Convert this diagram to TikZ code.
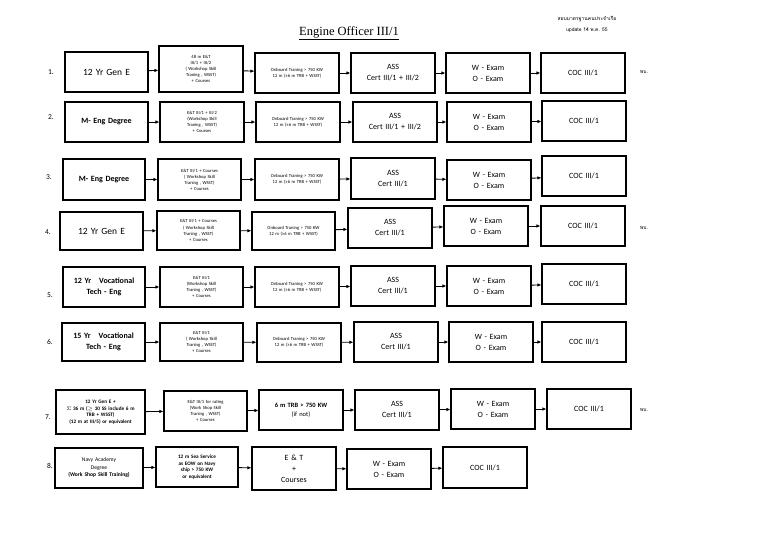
\documentclass[tikz,border=0pt]{standalone}
\usepackage{fontspec}
\setmainfont{Carlito}
\newfontfamily\thaifont[Script=Thai]{Loma}
\newfontfamily\titlefont{Liberation Serif}
\usetikzlibrary{arrows.meta}
\tikzset{box/.style={draw,line width=1.1pt,align=center,inner sep=1pt},
 big/.style={font=\fontsize{9.5}{11}\selectfont},
 med/.style={font=\fontsize{8}{10.5}\selectfont\bfseries},
 cert/.style={font=\fontsize{8}{11}\selectfont},
 tiny/.style={font=\fontsize{4.6}{6}\selectfont},
 sm/.style={font=\fontsize{5.2}{6.6}\selectfont\bfseries},
 arr/.style={-{Latex[length=4pt,width=3.5pt]},line width=0.9pt},
 lab/.style={font=\fontsize{7.5}{9}\selectfont}}
\newcommand\bx[7][]{\node[box,#1,minimum width={#4pt-#3pt},minimum height={#6pt-#5pt},text width={#4pt-#3pt-4pt}] (#2) at ({(#3+#4)/2},{(#5+#6)/2}) {#7};}
\newcommand\ob{Onboard Traning > 750 KW\\12 m (≥6 m TRB + WSST)}
\begin{document}
\begin{tikzpicture}[x=1pt,y=-1pt]
\useasboundingbox (0,0) rectangle (768,543);
\node[font=\titlefont\fontsize{12.5}{14}\selectfont] (title) at (349,33) {\underline{Engine Officer III/1}};
\node[font=\thaifont\fontsize{5}{6}\selectfont] (t1) at (587,19) {สอบมาตรฐานคนประจำเรือ};
\node[font=\thaifont\fontsize{5}{6}\selectfont] (t2) at (587,30) {update 14 พ.ค. 55};
% row 1
\node[lab] (n1) at (51,72) {1.};
\bx[big]{a1}{65}{148}{52}{92}{12 Yr Gen E}
\bx[tiny]{b1}{159}{243}{46}{92}{48 m E\&T\\III/1 + III/2\\( Workshop Skill\\Traning , WSST)\\+ Courses}
\bx[tiny]{c1}{255}{339}{53}{93}{\ob}
\bx[cert]{d1}{351}{435}{53}{93}{ASS\\Cert III/1 + III/2}
\bx[cert]{e1}{446}{530}{53}{93}{W - Exam\\O - Exam}
\bx[cert]{f1}{541}{625}{53}{93}{COC III/1}
\node[font=\thaifont\fontsize{5}{6}\selectfont] (p1) at (644,72) {พบ.};
% row 2
\node[lab] (n2) at (51,117) {2.};
\bx[med]{a2}{65}{148}{102}{142}{M- Eng Degree}
\bx[tiny]{b2}{160}{244}{102}{142}{E\&T III/1 + III/2\\(Workshop Skill\\Traning , WSST)\\+ Courses}
\bx[tiny]{c2}{256}{340}{102}{142}{\ob}
\bx[cert]{d2}{353}{437}{102}{142}{ASS\\Cert III/1 + III/2}
\bx[cert]{e2}{447}{531}{102}{142}{W - Exam\\O - Exam}
\bx[cert]{f2}{542}{626}{101}{141}{COC III/1}
% row 3
\node[lab] (n3) at (49,177) {3.};
\bx[med]{a3}{63}{145}{159}{200}{M- Eng Degree}
\bx[tiny]{b3}{158}{241}{159}{200}{E\&T III/1 + Courses\\( Workshop Skill\\Traning , WSST)\\+ Courses}
\bx[tiny]{c3}{255}{339}{159}{200}{\ob}
\bx[cert]{d3}{351}{435}{158}{199}{ASS\\Cert III/1}
\bx[cert]{e3}{447}{531}{160}{200}{W - Exam\\O - Exam}
\bx[cert]{f3}{542}{626}{156}{196}{COC III/1}
% row 4
\node[lab] (n4) at (48,232) {4.};
\bx[big]{a4}{60}{143}{212}{250}{12 Yr Gen E}
\bx[tiny]{b4}{157}{240}{211}{250}{E\&T III/1 + Courses\\[1.5pt]( Workshop Skill\\Traning , WSST)\\+ Courses}
\bx[tiny]{c4}{252}{335}{212}{250}{\ob}
\bx[cert]{d4}{348}{432}{208}{248}{ASS\\Cert III/1}
\bx[cert]{e4}{444}{528}{206}{246}{W - Exam\\O - Exam}
\bx[cert]{f4}{541}{625}{206}{246}{COC III/1}
\node[font=\thaifont\fontsize{5}{6}\selectfont] (p4) at (644,228) {พบ.};
% row 5
\node[lab] (n5) at (50,295) {5.};
\bx[med]{a5}{63}{145}{267}{307}{12 Yr\quad Vocational\\Tech - Eng}
\bx[tiny]{b5}{160}{243}{267}{307}{E\&T III/1\\(Workshop Skill\\Traning , WSST)\\+ Courses}
\bx[tiny]{c5}{255}{339}{267}{307}{\ob}
\bx[cert]{d5}{351}{435}{266}{306}{ASS\\Cert III/1}
\bx[cert]{e5}{447}{531}{266}{306}{W - Exam\\O - Exam}
\bx[cert]{f5}{542}{626}{264}{304}{COC III/1}
% row 6
\node[lab] (n6) at (50,342) {6.};
\bx[med]{a6}{62}{145}{323}{361}{15 Yr\quad Vocational\\Tech - Eng}
\bx[tiny]{b6}{160}{243}{323}{361}{E\&T III/1\\( Workshop Skill\\Traning , WSST)\\+ Courses}
\bx[tiny]{c6}{257}{341}{323}{362}{\ob}
\bx[cert]{d6}{354}{438}{322}{362}{ASS\\Cert III/1}
\bx[cert]{e6}{449}{533}{322}{362}{W - Exam\\O - Exam}
\bx[cert]{f6}{542}{626}{322}{362}{COC III/1}
% row 7
\node[lab] (n7) at (48,417) {7.};
\bx[sm]{a7}{56}{145}{390}{434}{12 Yr Gen E +\\$\Sigma$ 36 m ($\geq$ 30 SS include 6 m\\TRB + WSST)\\(12 m at III/5) or equivalent}
\bx[tiny]{b7}{164}{247}{391}{431}{E\&T III/1 for rating\\(Work Shop Skill\\Traning , WSST)\\+ Courses}
\bx[font=\fontsize{6.5}{9}\selectfont\bfseries]{c7}{259}{343}{390}{430}{6 m TRB > 750 KW\\{\mdseries(if not)}}
\bx[cert]{d7}{355}{439}{390}{430}{ASS\\Cert III/1}
\bx[cert]{e7}{451}{535}{389}{429}{W - Exam\\O - Exam}
\bx[cert]{f7}{547}{631}{389}{429}{COC III/1}
\node[font=\thaifont\fontsize{5}{6}\selectfont] (p7) at (644,410) {พบ.};
% row 8
\node[lab] (n8) at (50,466) {8.};
\bx[font=\fontsize{5.6}{7.5}\selectfont]{a8}{55}{143}{448}{488}{Navy Academy\\Degree\\{\bfseries(Work Shop Skill Training)}}
\bx[sm]{b8}{156}{238}{447}{487}{12 m Sea Service\\as EOW on Navy\\ship > 750 KW\\or equivalent}
\bx[cert]{c8}{252}{336}{447}{490}{E \& T\\+\\Courses}
\bx[cert]{d8}{347}{431}{449}{489}{W - Exam\\O - Exam}
\bx[cert]{e8}{443}{527}{447}{488}{COC III/1}
% arrows
\foreach \r in {1,...,7}{
 \draw[arr] (a\r) -- (b\r); \draw[arr] (b\r) -- (c\r); \draw[arr] (c\r) -- (d\r);
 \draw[arr] (d\r) -- (e\r); \draw[arr] (e\r) -- (f\r);}
\draw[arr] (a8) -- (b8); \draw[arr] (b8) -- (c8); \draw[arr] (c8) -- (d8); \draw[arr] (d8) -- (e8);
\end{tikzpicture}
\end{document}
